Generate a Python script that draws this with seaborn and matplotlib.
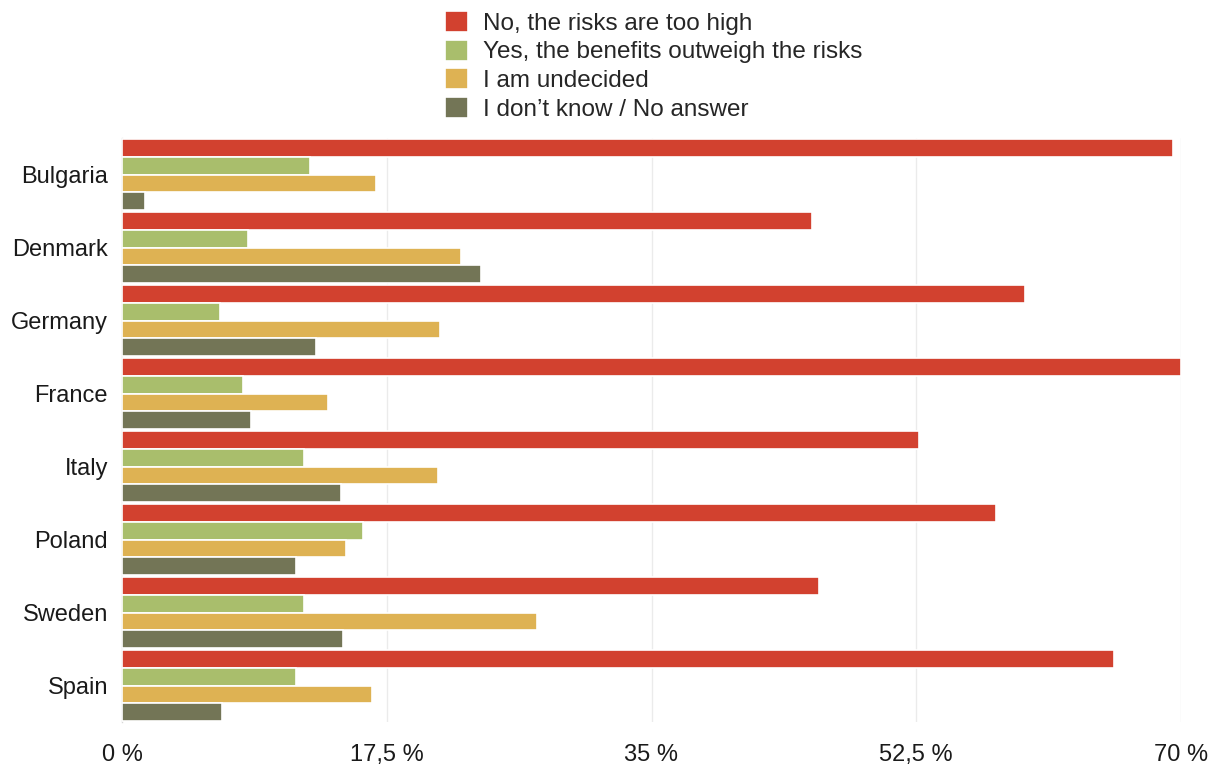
import matplotlib
matplotlib.use("Agg")
import matplotlib.pyplot as plt
import seaborn as sns
import pandas as pd

countries = ["Bulgaria", "Denmark", "Germany", "France", "Italy", "Poland", "Sweden", "Spain"]
series = ["No, the risks are too high", "Yes, the benefits outweigh the risks",
          "I am undecided", "I don\u2019t know / No answer"]
no_risks = [69.5, 45.6, 59.7, 70.0, 52.7, 57.8, 46.1, 65.6]
yes_benefits = [12.4, 8.3, 6.5, 8.0, 12.0, 15.9, 12.0, 11.5]
undecided = [16.8, 22.4, 21.0, 13.6, 20.9, 14.8, 27.4, 16.5]
dont_know = [1.5, 23.7, 12.8, 8.5, 14.5, 11.5, 14.6, 6.6]
ticks = [0, 17.5, 35, 52.5, 70]
tick_labels = ["0 %", "17,5 %", "35 %", "52,5 %", "70 %"]
colors = ["#D2412F", "#A9BE6C", "#DEB253", "#737556"]

values = [no_risks, yes_benefits, undecided, dont_know]
rows = []
for s, vals in zip(series, values):
    for c, v in zip(countries, vals):
        rows.append({"country": c, "answer": s, "value": v})
df = pd.DataFrame(rows)

sns.set_theme(style="white")
plt.rcParams["font.family"] = ["Liberation Sans", "DejaVu Sans"]

fig = plt.figure(figsize=(12.18, 7.67), dpi=100)
ax = fig.add_axes([122/1218, 1 - 722/767, (1181-122)/1218, (722-138)/767])

sns.barplot(data=df, y="country", x="value", hue="answer", order=countries,
            hue_order=series, palette=colors, saturation=1, orient="h", width=0.97,
            edgecolor="white", linewidth=1.2, ax=ax, legend=True, zorder=3)

ax.set_xlim(0, 70)
ax.set_ylim(7.5, -0.5)
ax.set_xticks(ticks)
ax.set_xticklabels(tick_labels)
ax.grid(axis="x", color="#ebebeb", linewidth=1, zorder=0)
ax.grid(axis="y", visible=False)
for sp in ["top", "right", "bottom"]:
    ax.spines[sp].set_visible(False)
ax.spines["left"].set_color("#d8d8d8")
ax.spines["left"].set_linewidth(1)
ax.set_xlabel("")
ax.set_ylabel("")
ax.tick_params(axis="x", labelsize=17, pad=16, length=0, colors="#1a1a1a")
ax.tick_params(axis="y", labelsize=17, pad=10, length=0, colors="#1a1a1a")

handles, labels = ax.get_legend_handles_labels()
ax.legend_.remove()
fig.legend(handles, labels, loc="upper left", bbox_to_anchor=(428/1218, 1.008),
           frameon=False, fontsize=17.5, handlelength=0.95, handleheight=0.95,
           handletextpad=0.6, labelspacing=0.2, borderaxespad=0.3)

fig.savefig("out.png", dpi=100, facecolor="white")
